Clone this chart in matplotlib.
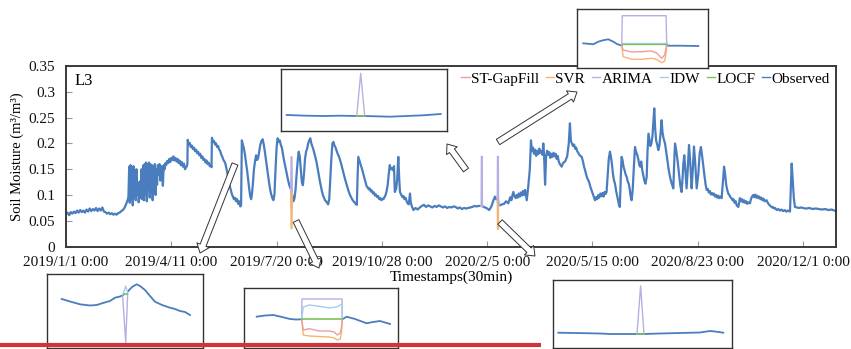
import numpy as np
import pandas as pd
import matplotlib
matplotlib.use("Agg")
import matplotlib.pyplot as plt
import matplotlib.dates as mdates
from matplotlib.patches import FancyArrowPatch
from matplotlib.lines import Line2D

plt.rcParams['font.family'] = ['Liberation Serif', 'DejaVu Serif']

# ---------------- data ----------------
start_date = "2019-01-01"
tick_labels = ["2019/1/1 0:00", "2019/4/11 0:00", "2019/7/20 0:00", "2019/10/28 0:00",
               "2020/2/5 0:00", "2020/5/15 0:00", "2020/8/23 0:00", "2020/12/1 0:00"]
y_ticks = [0, 0.05, 0.1, 0.15, 0.2, 0.25, 0.3, 0.35]
y_tick_labels = ["0", "0.05", "0.1", "0.15", "0.2", "0.25", "0.3", "0.35"]
series_names = ["ST-GapFill", "SVR", "ARIMA", "IDW", "LOCF", "Observed"]

# observed soil moisture, days since 2019-01-01
obs_days = [0, 1.5, 3, 4.5, 6, 7.5, 9, 10.5, 12, 13.5, 15, 16.5, 18, 19.5, 21, 22.5, 24, 25.5, 27, 28.5,
            30, 31.5, 33, 34.5, 36, 37.5, 39, 40.5, 42, 43.5, 45, 46.5, 48, 49.5, 51, 52.5, 54, 55.5, 57, 58.5,
            59.3, 60.0, 60.6, 61.3, 62.0, 62.7, 63.4, 64.1, 64.8, 65.5, 66.2, 66.9, 67.6, 68.3, 69.0, 69.7,
            70.4, 71.1, 71.8, 72.5, 73.2, 73.9, 74.6, 75.3, 76.0, 76.7, 77.4, 78.1, 78.8, 79.5, 80.2, 80.9,
            81.6, 82.3, 83.0, 83.7, 84.4, 85.1, 85.8, 86.5, 87.2, 88.0, 88.8, 89.6, 90.4, 91.2, 92.0, 92.8,
            93.6, 94.4, 95.2,
            96, 97, 98, 99, 100, 101, 102, 103, 104, 105, 106, 107, 108, 109, 110, 111, 112, 113, 114.5,
            115.3, 115.6, 116.5, 117.5, 118.5, 119.5, 120.5, 121.5, 122.5, 123.5, 124.5, 125.5, 126.5, 127.5,
            128.5, 129.5, 130.5, 131.5, 132.5, 133.5, 134.5, 135.5, 136.5, 137.5, 138.2,
            138.6, 139.5, 140.5, 141.5, 142.5, 143.5, 144.5, 145.5, 146.5, 147.5, 148.5, 149.5, 150.5, 151.5,
            152.5, 153.5, 154.5, 155.5, 156.5, 157.5, 158.5, 159.5, 160.5, 161.5, 162.5, 163.5, 164.5, 165.5, 166.3,
            167, 168, 169, 170, 171, 172, 173, 174, 175, 175.8, 176.5, 177.5, 178.5, 179.5, 180.5, 181.5, 182.5,
            183.5, 184.5, 185.5, 186.8, 187.8, 188.8, 189.8, 190.8, 191.8, 192.8, 193.8, 194.8, 196, 197, 198,
            199, 200, 201, 202, 203, 204, 205, 206, 207, 208, 209, 210, 211, 212, 213, 214, 215, 216, 217, 218,
            219, 220, 221, 222, 223, 224, 225, 226, 227, 228, 229, 230, 231, 232, 233, 234, 235, 236, 237, 238,
            239, 240, 241, 242, 243, 244, 245, 246, 247, 248, 249, 250, 251, 252, 253, 254, 255, 256, 257, 258,
            259, 260, 261, 262, 263, 264, 265, 266, 267, 268, 269, 270, 271, 272, 273, 274, 275, 276.2, 277,
            277.6, 278.5, 279.5, 280.5, 281.5, 282.5, 283.5, 284.5, 285.5, 286.5, 287.5, 288.5, 289.5, 290.5,
            291.5, 292.5, 293.5, 294.5, 295.5, 296.5, 297.5, 298.5, 299.5, 300.5, 301.5, 302.5, 303.5, 304.5,
            305.5, 306.5, 307.5, 308.5, 309.5, 310.5, 311.5, 312.3, 313.5, 314.5, 315.6, 316.5, 317.2, 318.5,
            319.5, 320.5, 321.5, 322.5, 323.5, 324.5, 325.5, 326.7, 327.5, 328.5, 330,
            332, 334, 336, 338, 340, 342, 344, 346, 348, 350, 352, 354, 356, 358, 360, 362, 364, 366, 368, 370,
            372, 374, 376, 378, 380, 382, 384, 386, 388, 390, 392, 394, 396, 398, 400, 402, 404, 406, 407.4,
            408.5, 410, 410.8, 412, 414, 416, 418, 420, 422, 423, 424.8, 426, 427, 428, 429, 430, 431, 432, 433,
            434, 435, 436, 437.6, 439, 440.5, 441.6,
            442.5, 443.5, 444.5, 445.5, 446.5, 447.5, 448.5, 449.5, 450.5, 451.5, 452.5, 453.3, 454, 455, 456,
            457, 458, 459, 460, 461, 462, 463, 464, 465, 466, 467, 468, 469, 470.8,
            472, 474, 476, 477.5, 478.6, 479.5, 480.5, 481.5, 482.5, 483.5, 484.5, 485.5, 486.5, 487.5, 488.5,
            489.8, 491, 492, 493, 494, 495, 496, 497, 498, 499, 500, 501, 502.4, 503.5, 504.5, 505.5, 506.5,
            507.5, 508.7, 509.5, 510.5, 511.5, 512.5, 513.4, 514.5, 515.5, 516.6, 517.5, 518.5, 519.5, 520.5,
            521.4, 522.5, 523.5, 524.5, 525.3, 526, 527, 527.7, 528.5, 529.5, 530.5, 531.5, 532.5, 533.5, 534.5,
            535.5, 536.3, 537.2, 538.2, 539.2, 540.4, 541.5, 542.5, 543.5, 544.5, 545.3, 546.3, 547.3, 548.3,
            549.3, 550.3, 551.5, 552.3, 553.2, 554, 555, 556, 557, 557.8, 558.7, 559.5, 560.5, 561.5, 562.5,
            563.5, 564.5, 565.7, 566.5, 567.5, 568.9, 570, 571, 572, 573, 574, 575, 576, 576.8, 577.6, 578.4,
            579.3, 580.3, 581.5, 582.5, 583.5, 584.6, 585.5, 586.3, 587.2, 588.2, 589.4, 590.5, 591.7, 592.8,
            594.2, 595.3, 596.4, 597.5, 599.0, 600.5, 601.8, 603.0, 604.2, 605.3, 606.5, 607.5, 608.5, 609.5,
            610.5, 611.5, 612.5, 613.5, 614.7, 615.5, 616.5, 617.5, 618.5, 619.5, 620.5, 621.5, 622.7, 623.7,
            625.0, 626, 627, 628, 629, 630, 631, 632, 633, 634, 635, 636, 637, 638.5, 639.3, 640, 641, 642, 643,
            644, 645, 646, 647, 648, 649.6, 650.5, 651.5, 652.7, 653.5, 654.5, 655.5, 656.5, 657.5, 658.5,
            659.5, 660.5, 661.5, 662.5, 663.5, 665.4, 666.5, 667.5, 668.5, 669.5, 670.5, 671.5, 672.5, 673.5,
            675, 676.5, 678, 679.5, 681, 682.5, 684, 685.5, 687.6, 688.5, 689.2, 690.2, 691.2, 692.3, 694, 696,
            698, 700, 702, 703.4, 706, 709, 712, 715, 718, 721, 724, 727, 730, 731]
obs_vals = [.063, .066, .061, .067, .064, .068, .065, .070, .066, .071, .067, .070, .066, .072, .068, .074, .069, .073, .070, .075,
            .069, .074, .070, .076, .068, .067, .064, .066, .063, .065, .062, .064, .062, .065, .066, .069, .071, .075, .082, .090,
            .097, .155, .085, .158, .092, .150, .080, .156, .097, .142, .090, .150, .100, .125, .086, .098,
            .127, .094, .150, .092, .157, .090, .160, .100, .163, .088, .160, .110, .163, .095, .160, .105,
            .158, .090, .155, .115, .160, .100, .150, .120, .158, .140, .160, .128, .152, .156, .118, .158,
            .150, .162, .158,
            .166, .162, .170, .164, .172, .168, .175, .167, .172, .165, .170, .162, .167, .158, .164, .155, .161, .150, .155,
            .160, .207, .198, .201, .193, .196, .189, .192, .185, .188, .181, .184, .177, .180,
            .172, .175, .168, .170, .163, .167, .160, .163, .156, .158, .154,
            .211, .203, .205, .198, .200, .193, .195, .188, .185, .178, .174, .168, .165, .160,
            .150, .140, .128, .118, .110, .102, .097, .092, .095, .088, .092, .083, .088, .078, .080,
            .206, .198, .190, .178, .162, .148, .130, .112, .098, .092, .100, .122, .150, .165, .177, .168, .172,
            .185, .197, .204, .208, .198, .185, .170, .155, .140, .125, .112, .102, .094, .090, .102,
            .150, .192, .210, .203, .206, .197, .192, .180, .168, .158, .148, .138, .128, .120, .114, .110, .098, .088, .094, .110,
            .140, .165, .184, .175, .150, .125, .119, .140, .170, .184, .190, .200, .206, .210, .200, .194, .188, .180, .172, .163,
            .152, .140, .128, .118, .108, .100, .095, .090, .088, .085, .082, .092, .130, .170, .200, .203, .196, .192, .186, .180,
            .176, .170, .163, .155, .147, .139, .131, .124, .117, .110, .104, .099, .095, .091, .088, .086, .083, .081, .140,
            .174, .168, .162, .155, .148, .140, .132, .125, .117, .115, .111, .113, .107, .109,
            .103, .105, .099, .101, .096, .098, .092, .094, .090, .093, .092, .096, .100, .108,
            .119, .140, .158, .150, .152, .148, .156, .106, .112, .130, .174, .130, .106, .100,
            .096, .098, .092, .095, .088, .084, .082, .103, .085, .078, .071,
            .075, .072, .076, .079, .081, .077, .080, .078, .076, .079, .077, .080, .078, .076, .078, .075, .077, .076, .078, .077,
            .074, .076, .073, .075, .074, .075, .076, .077, .079, .078, .079, .079, .078, .076, .074, .071, .078, .090, .097,
            .092, .095, .081, .080, .082, .083, .088, .084, .096, .090, .106, .098, .094, .100, .095, .103, .097, .105, .099,
            .108, .100, .110, .090, .116, .150, .206,
            .185, .192, .180, .188, .176, .186, .179, .190, .182, .185, .178, .200, .180, .120, .175,
            .186, .178, .183, .172, .180, .174, .182, .175, .180, .170, .176, .165, .160, .155,
            .162, .165, .175, .200, .239, .205, .200, .195, .198, .190, .192, .185, .182, .178, .176,
            .174, .165, .155, .148, .140, .133, .129, .124, .116, .110, .104, .098, .090, .096, .092, .100, .095,
            .103, .098, .104, .097, .106, .102, .106, .140, .170, .184, .175, .160, .140, .128,
            .122, .108, .098, .088, .080, .077, .140, .174, .168, .155, .148, .140, .135, .126, .122,
            .110, .097, .090, .110, .150, .193, .183, .178, .170, .158, .155, .165, .148, .138,
            .128, .122, .135, .185, .219, .208, .195, .200, .215, .240, .268, .230, .205, .198, .187,
            .195, .215, .245, .222, .210, .200, .185, .170, .155, .142, .132, .124, .118, .113, .160, .200,
            .190, .175, .155, .135, .118, .106, .130, .160, .177, .150, .113, .150, .197, .165,
            .113, .150, .194, .165, .113, .140, .180, .193, .175, .155, .135, .120, .110, .112,
            .105, .108, .101, .104, .100, .103, .097, .100, .095, .099, .094, .097, .094, .120,
            .155, .140, .120, .110, .103, .100, .096, .094, .090, .092, .085, .088, .080, .077, .085, .094, .088, .092, .086,
            .090, .085, .088, .083, .086, .084, .092, .097, .100, .096, .101, .095, .099, .094, .097,
            .092, .095, .090, .093, .088, .090, .085, .082, .080, .078, .076, .077, .074, .075,
            .071, .073, .070, .072, .069, .071, .068, .070, .068, .120, .161, .130, .095, .077, .076, .075,
            .076, .075, .074, .074, .075, .073, .074, .073, .072, .073, .071, .072, .070, .069]

# imputed values at three artificial gaps in the main series (days since start)
gap_days = [[213.5, 213.8, 214.6, 214.9], [394.3, 394.5, 395.3, 395.5], [409.6, 409.8, 410.6, 410.8]]
gap_st = [[0.110, 0.075, 0.075, 0.106], [0.079, 0.079, 0.079, 0.078], [0.095, 0.085, 0.085, 0.081]]
gap_svr = [[0.110, 0.035, 0.035, 0.106], [0.079, 0.079, 0.079, 0.078], [0.095, 0.034, 0.034, 0.081]]
gap_arima = [[0.110, 0.174, 0.174, 0.106], [0.079, 0.175, 0.175, 0.078], [0.095, 0.175, 0.175, 0.081]]
gap_idw = [[0.110, 0.130, 0.130, 0.106], [0.079, 0.080, 0.080, 0.078], [0.095, 0.100, 0.100, 0.081]]
gap_locf = [[0.110, 0.110, 0.110, 0.106], [0.079, 0.079, 0.079, 0.078], [0.095, 0.095, 0.095, 0.081]]

# zoomed insets (time step, soil moisture)
insA_t_obs = [6, 26, 42.6, 59, 76, 84, 109.3, 126, 142.6, 160]
insA_obs = [0.116, 0.1153, 0.115, 0.1153, 0.115, 0.115, 0.1143, 0.115, 0.1157, 0.117]
insA_t_arima = [76, 80, 84]
insA_arima = [0.115, 0.1577, 0.115]
insA_t_locf = [77, 83]
insA_locf = [0.1147, 0.1147]

insB_t_obs = [6.6, 16.6, 21.6, 26.3, 31.6, 36.6, 40.3, 45, 67, 90, 103.3, 121.6]
insB_obs = [0.125, 0.124, 0.1266, 0.128, 0.129, 0.1266, 0.1243, 0.1226, np.nan, 0.1226, 0.1226, 0.1223]
insB_t_arima = [45, 45.6, 89.4, 90]
insB_arima = [0.1226, 0.1526, 0.1526, 0.1226]
insB_t_flat = [45, 90]
insB_idw = [0.125, 0.125]
insB_locf = [0.124, 0.124]
insB_t_fill = [45, 46.5, 55, 65, 75, 80, 85, 88, 89.5, 90]
insB_st = [0.1226, 0.1183, 0.1163, 0.1166, 0.1173, 0.1153, 0.110, 0.1133, 0.1213, 0.1226]
insB_svr = [0.1226, 0.1116, 0.109, 0.109, 0.110, 0.1088, 0.1056, 0.1073, 0.1163, 0.1226]

insC_t_obs = [15, 23.3, 33.3, 43.3, 50, 56.3, 63.3, 68.3, 73.3, 76.6, 79, 81.6, 85.3, 90, 93.3, 98.3,
              103.3, 108.3, 115.3, 123.3, 128.3, 133.3, 138.3, 143.3]
insC_obs = [0.1487, 0.1462, 0.1434, 0.1422, 0.1427, 0.1447, 0.1467, 0.1500, 0.1512, 0.1527, np.nan, 0.1567,
            0.1607, 0.1634, 0.1617, 0.1577, 0.1517, 0.1460, 0.1427, 0.1400, 0.1387, 0.1367, 0.1357, 0.1327]
insC_t_fill = [76, 79, 81]
insC_arima = [0.1510, 0.1054, 0.1544]
insC_idw = [0.1527, 0.1617, 0.1544]
insC_t_locf = [77.3, 80.6]
insC_locf = [0.1537, 0.1537]

insD_t_obs = [12.4, 20.7, 29, 37.7, 45.7, 51.7, 57.4, 78, 98, 102.4, 110.7, 122.4, 128.7, 135.7, 140.7, 145.7]
insD_obs = [0.131, 0.1322, 0.1327, 0.1307, 0.1287, 0.1282, 0.1284, np.nan, 0.1284, 0.131, 0.1287, 0.1244,
            0.1257, 0.1267, 0.1252, 0.1237]
insD_t_arima = [57.4, 57.6, 97.8, 98]
insD_arima = [0.1284, 0.1487, 0.1487, 0.1284]
insD_t_fill = [57.4, 59, 65, 75, 85, 90, 93, 96, 97.5, 98]
insD_idw = [0.1284, 0.1407, 0.1427, 0.1414, 0.1397, 0.1404, 0.1410, 0.1427, 0.1437, 0.1284]
insD_st = [0.1284, 0.1177, 0.119, 0.1167, 0.1167, 0.1157, 0.1127, 0.1147, 0.1227, 0.1284]
insD_svr = [0.1284, 0.1127, 0.1117, 0.1112, 0.1107, 0.1097, 0.1077, 0.1087, 0.1177, 0.1284]
insD_t_locf = [57.4, 98]
insD_locf = [0.1287, 0.1287]

insE_t_obs = [5.6, 22.3, 47.3, 57.3, 72.3, 84.3, 91.3, 107.3, 127.3, 147.3, 157.3, 162.3, 170.6]
insE_obs = [0.1156, 0.1153, 0.1148, 0.1143, 0.1143, 0.1143, 0.1143, 0.1148, 0.1153, 0.1158, 0.1173, 0.1168, 0.1156]
insE_t_arima = [84.3, 87.9, 91.3]
insE_arima = [0.1143, 0.1623, 0.1143]
insE_t_locf = [84.3, 91.3]
insE_locf = [0.1140, 0.1140]

# ---------------- style ----------------
c_st, c_svr, c_arima, c_idw, c_locf, c_obs = '#f19c9c', '#f5b574', '#b9aee3', '#a7cdee', '#7cc05a', '#4a7dbd'
W, H = 851.0, 349.0

fig = plt.figure(figsize=(W / 100, H / 100), dpi=100)
fig.patch.set_facecolor('white')

def fx(px):
    return px / W

def fy(py):
    return 1 - py / H

ax_l, ax_r, ax_t, ax_b = 66, 836, 66, 246.7
ax = fig.add_axes([fx(ax_l), fy(ax_b), (ax_r - ax_l) / W, (ax_b - ax_t) / H])

t0 = pd.Timestamp(start_date)
obs_time = t0 + pd.to_timedelta(obs_days, unit='D')
ax.plot(obs_time, obs_vals, color=c_obs, lw=1.6, zorder=2)

for i in range(len(gap_days)):
    gt = t0 + pd.to_timedelta(gap_days[i], unit='D')
    ax.plot(gt, gap_locf[i], color=c_locf, lw=1.0, zorder=3)
    ax.plot(gt, gap_st[i], color=c_st, lw=1.0, zorder=3)
    ax.plot(gt, gap_svr[i], color=c_svr, lw=1.0, zorder=3)
    ax.plot(gt, gap_idw[i], color=c_idw, lw=1.0, zorder=3)
    ax.plot(gt, gap_arima[i], color=c_arima, lw=1.0, zorder=3)

tick_dates = pd.to_datetime(tick_labels, format="%Y/%m/%d %H:%M")
ax.set_xlim(t0, t0 + pd.Timedelta(days=731.3))
ax.set_xticks(tick_dates)
ax.set_xticklabels(tick_labels)
ax.set_ylim(0, 0.35)
ax.set_yticks(y_ticks)
ax.set_yticklabels(y_tick_labels)
ax.tick_params(axis='x', direction='in', length=4, width=0.8, color='#999999', pad=7, labelsize=11,
               labelcolor='#111111')
ax.tick_params(axis='y', direction='in', length=4, width=0.8, color='#999999', pad=8, labelsize=11,
               labelcolor='#111111')
for s in ax.spines.values():
    s.set_color('#3a3a3a')
    s.set_linewidth(1.4)
ax.set_xlabel("Timestamps(30min)", fontsize=11, labelpad=1)
ax.set_ylabel("Soil Moisture (m³/m³)", fontsize=10.5, labelpad=3)
ax.text(0.011, 0.915, "L3", transform=ax.transAxes, fontsize=12, va='center', ha='left')

handles = [Line2D([], [], color=c, lw=1.0) for c in [c_st, c_svr, c_arima, c_idw, c_locf, c_obs]]
ax.legend(handles, series_names, loc='upper right', bbox_to_anchor=(1.0, 1.0), ncol=6, frameon=False,
          fontsize=11, handlelength=0.55, handletextpad=0.08, columnspacing=0.45, borderpad=0.3,
          borderaxespad=0.1)

# ---------------- insets ----------------
def make_inset(l, t, r, b, xlim, ylim):
    a = fig.add_axes([fx(l), fy(b), (r - l) / W, (b - t) / H], zorder=5)
    a.set_xlim(*xlim)
    a.set_ylim(*ylim)
    a.set_xticks([])
    a.set_yticks([])
    a.set_facecolor('white')
    for s in a.spines.values():
        s.set_color('#333333')
        s.set_linewidth(1.0)
    return a

aA = make_inset(280.7, 69.3, 447.3, 131, (0, 166.6), (0.10, 0.1617))
aA.plot(insA_t_obs, insA_obs, color=c_obs, lw=1.3)
aA.plot(insA_t_arima, insA_arima, color=c_arima, lw=1.0)
aA.plot(insA_t_locf, insA_locf, color=c_locf, lw=1.2)

aB = make_inset(576.7, 9.3, 707.7, 68.3, (0, 131), (0.10, 0.159))
aB.plot(insB_t_obs, insB_obs, color=c_obs, lw=1.3)
aB.plot(insB_t_fill, insB_svr, color=c_svr, lw=1.0)
aB.plot(insB_t_fill, insB_st, color=c_st, lw=1.0)
aB.plot(insB_t_arima, insB_arima, color=c_arima, lw=1.0)
aB.plot(insB_t_flat, insB_idw, color=c_idw, lw=1.0)
aB.plot(insB_t_flat, insB_locf, color=c_locf, lw=1.0)

aC = make_inset(46.7, 274.3, 202.7, 347.7, (0, 156), (0.10, 0.1734))
aC.plot(insC_t_obs, insC_obs, color=c_obs, lw=1.3)
aC.plot(insC_t_fill, insC_arima, color=c_arima, lw=1.0)
aC.plot(insC_t_fill, insC_idw, color=c_idw, lw=1.0)
aC.plot(insC_t_locf, insC_locf, color=c_locf, lw=1.2)

aD = make_inset(244.3, 288.3, 397.7, 347.7, (0, 153.4), (0.10, 0.1594))
aD.plot(insD_t_obs, insD_obs, color=c_obs, lw=1.3)
aD.plot(insD_t_fill, insD_svr, color=c_svr, lw=1.0)
aD.plot(insD_t_fill, insD_st, color=c_st, lw=1.0)
aD.plot(insD_t_arima, insD_arima, color=c_arima, lw=1.0)
aD.plot(insD_t_fill, insD_idw, color=c_idw, lw=1.0)
aD.plot(insD_t_locf, insD_locf, color=c_locf, lw=1.2)

aE = make_inset(552.7, 280, 731.7, 348.3, (0, 179), (0.10, 0.1683))
aE.plot(insE_t_obs, insE_obs, color=c_obs, lw=1.3)
aE.plot(insE_t_arima, insE_arima, color=c_arima, lw=1.0)
aE.plot(insE_t_locf, insE_locf, color=c_locf, lw=1.2)

# ---------------- hollow arrows ----------------
arrow_px = [((235, 164), (200, 253)), ((296, 221), (319, 268)), ((466, 170), (447, 144)),
            ((498, 142), (577, 92)), ((500, 222), (535, 256))]
for (x0, y0), (x1, y1) in arrow_px:
    ar = FancyArrowPatch((fx(x0), fy(y0)), (fx(x1), fy(y1)), transform=fig.transFigure,
                         arrowstyle="simple,head_length=0.6,head_width=0.95,tail_width=0.45",
                         mutation_scale=10, facecolor='white', edgecolor='#333333', lw=0.7,
                         shrinkA=0, shrinkB=0, zorder=6)
    fig.add_artist(ar)

# red bar at the bottom
fig.add_artist(Line2D([0, fx(541)], [fy(345), fy(345)], transform=fig.transFigure, color='#d0353a',
                      lw=3.0, solid_capstyle='butt', zorder=10))

fig.savefig("out.png", dpi=100)
